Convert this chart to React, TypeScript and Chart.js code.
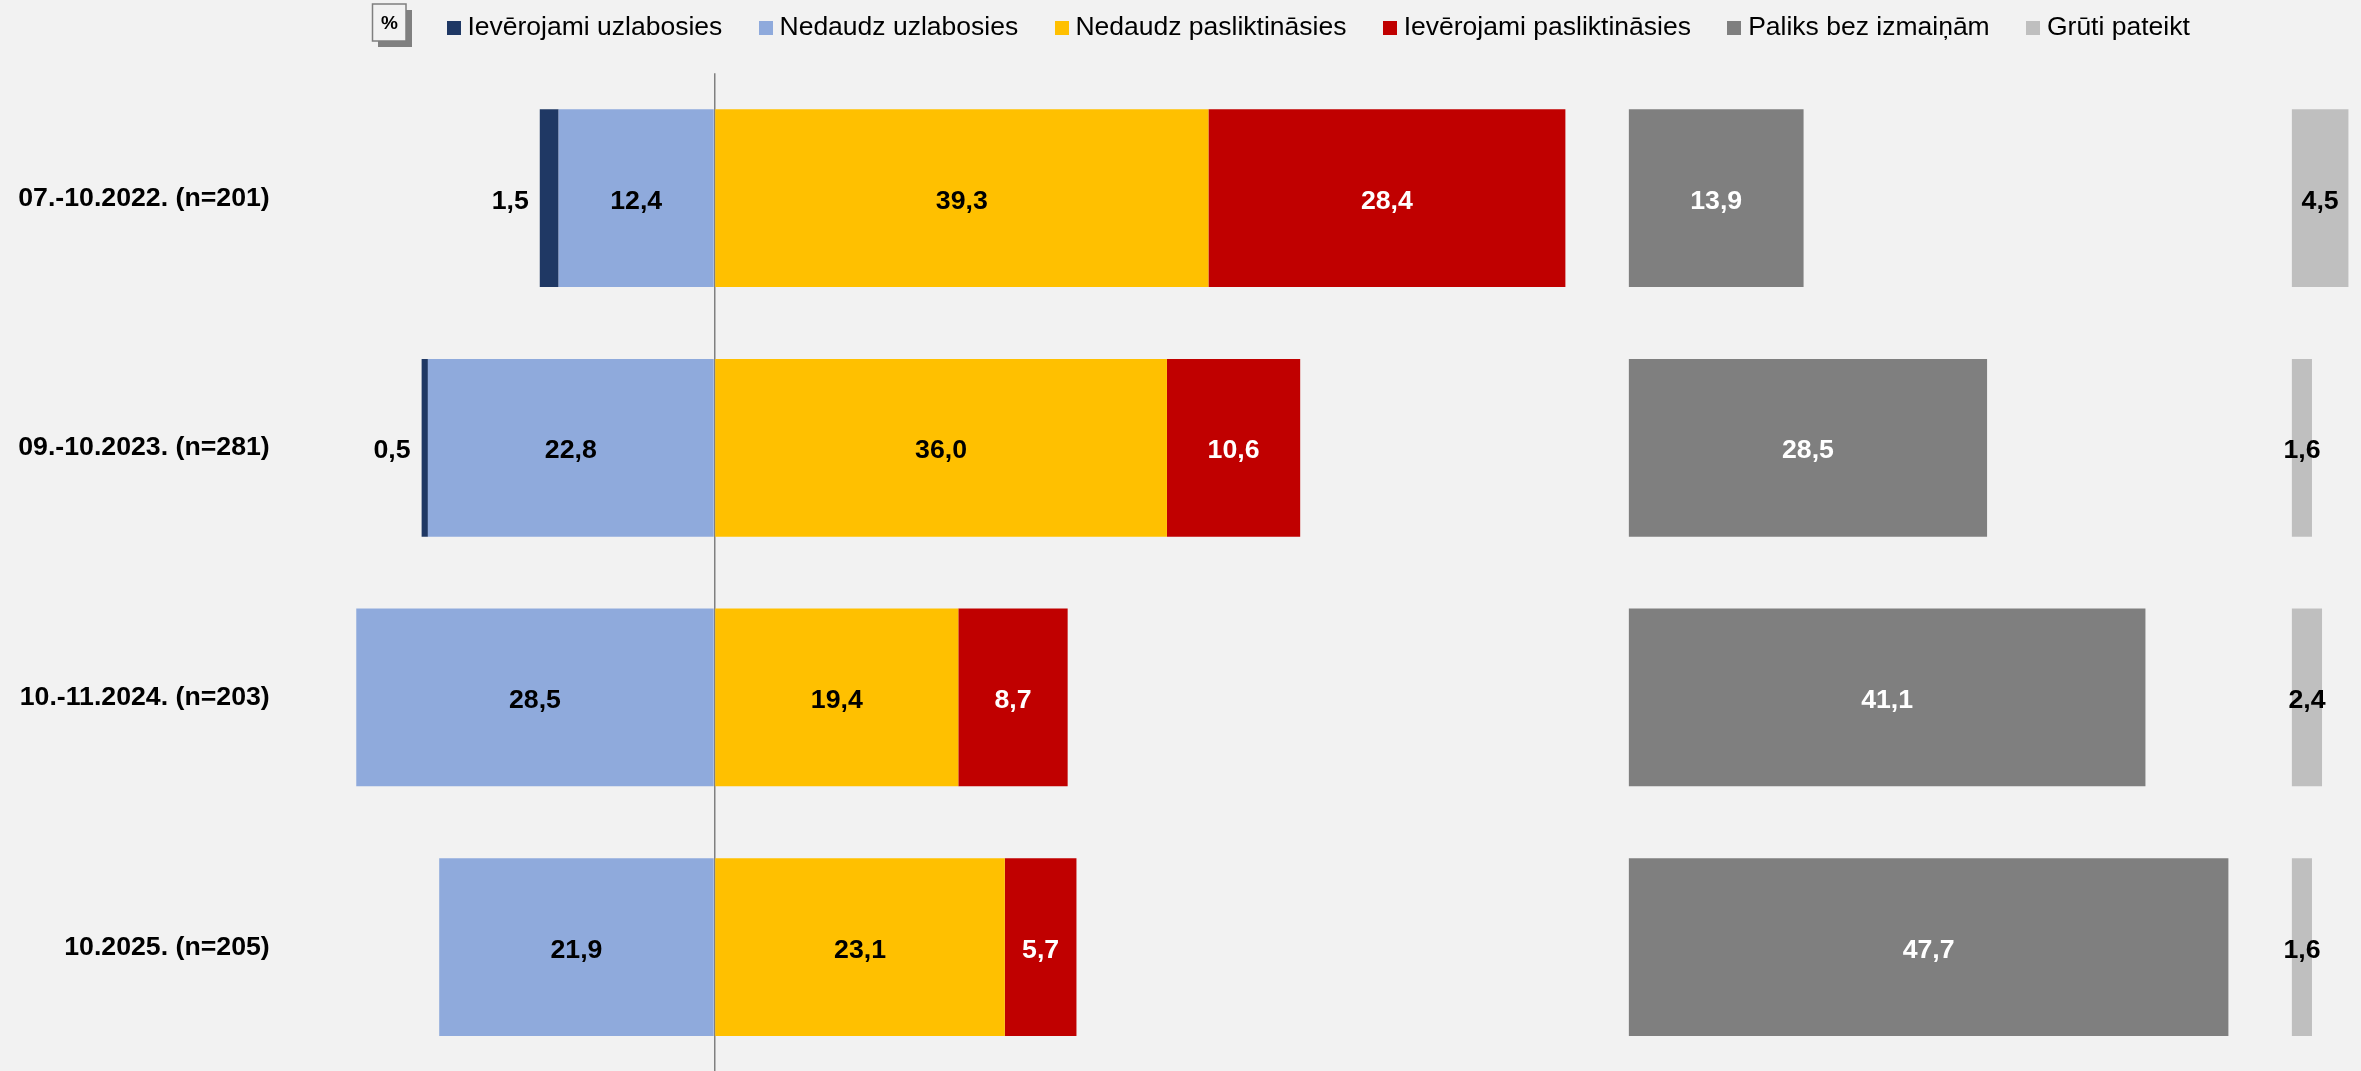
import React, { useEffect, useRef } from "react";
import { Chart, registerables } from "chart.js";

Chart.register(...registerables);

const categories = ["07.-10.2022. (n=201)", "09.-10.2023. (n=281)", "10.-11.2024. (n=203)", "10.2025. (n=205)"];
const muchBetter = [1.5, 0.5, null, null];
const slightlyBetter = [12.4, 22.8, 28.5, 21.9];
const slightlyWorse = [39.3, 36.0, 19.4, 23.1];
const muchWorse = [28.4, 10.6, 8.7, 5.7];
const noChange = [13.9, 28.5, 41.1, 47.7];
const hardToSay = [4.5, 1.6, 2.4, 1.6];

const secondPanelStart = 72.75;
const thirdPanelStart = 125.5;
const BG = "#F2F2F2";
const FONT = "'Liberation Sans', Arial, sans-serif";

const swatch = (color: string) => {
  const c = document.createElement("canvas");
  c.width = 14;
  c.height = 14;
  const g = c.getContext("2d")!;
  g.fillStyle = color;
  g.fillRect(0, 0, 14, 14);
  return c;
};

const fmt = (v: number) => v.toFixed(1).replace(".", ",");

const barLabels = {
  id: "barLabels",
  afterDatasetsDraw(chart: any) {
    const ctx = chart.ctx;
    ctx.save();
    ctx.font = `bold 26.7px ${FONT}`;
    ctx.textBaseline = "middle";
    chart.data.datasets.forEach((ds: any, i: number) => {
      if (ds.spacer) return;
      chart.getDatasetMeta(i).data.forEach((bar: any, j: number) => {
        const v = ds.data[j];
        if (v == null) return;
        const { x, y, base } = bar.getProps(["x", "y", "base"], true);
        ctx.fillStyle = ds.labelColor;
        if (ds.outside) {
          ctx.textAlign = "right";
          ctx.fillText(fmt(Math.abs(v)), Math.min(x, base) - 11, y + 3);
        } else {
          ctx.textAlign = "center";
          ctx.fillText(fmt(Math.abs(v)), (x + base) / 2, y + 3);
        }
      });
    });
    ctx.restore();
  },
};

const unitBadge = {
  id: "unitBadge",
  afterDraw(chart: any) {
    const ctx = chart.ctx;
    ctx.save();
    ctx.fillStyle = "#808080";
    ctx.fillRect(378, 10, 34, 37);
    ctx.fillStyle = BG;
    ctx.strokeStyle = "#7F7F7F";
    ctx.lineWidth = 1.5;
    ctx.fillRect(372.5, 4, 33.5, 37);
    ctx.strokeRect(372.5, 4, 33.5, 37);
    ctx.fillStyle = "#000";
    ctx.font = `bold 19px ${FONT}`;
    ctx.textAlign = "center";
    ctx.textBaseline = "middle";
    ctx.fillText("%", 389.5, 24);
    ctx.restore();
  },
};

const placeLegend = {
  id: "placeLegend",
  afterLayout(chart: any) {
    chart.legend.left = 282;
    chart.legend.top = -28.5;
  },
};

export default function App() {
  const ref = useRef<HTMLCanvasElement>(null);
  useEffect(() => {
    document.body.style.margin = "0";
    document.body.style.background = BG;
    const sum = (a: number[], b: number[]) => a.map((v, i) => v + b[i]);
    const base = (d: any) => ({ stack: "s", borderWidth: 0, ...d });
    const gapA = sum(slightlyWorse, muchWorse).map((v) => secondPanelStart - v);
    const gapB = noChange.map((v) => thirdPanelStart - secondPanelStart - v);
    const chart = new Chart(ref.current!, {
      type: "bar",
      data: {
        labels: categories,
        datasets: [
          base({ label: "Nedaudz uzlabosies", rank: 1, labelColor: "#000", data: slightlyBetter.map((v) => -v), backgroundColor: "#8FAADC" }),
          base({ label: "Ievērojami uzlabosies", rank: 0, labelColor: "#000", outside: true, data: muchBetter.map((v) => (v == null ? null : -v)), backgroundColor: "#1F3864" }),
          base({ label: "Nedaudz pasliktināsies", rank: 2, labelColor: "#000", data: slightlyWorse, backgroundColor: "#FFC000" }),
          base({ label: "Ievērojami pasliktināsies", rank: 3, labelColor: "#FFF", data: muchWorse, backgroundColor: "#C00000" }),
          base({ label: "spacerA", spacer: true, data: gapA, backgroundColor: "transparent" }),
          base({ label: "Paliks bez izmaiņām", rank: 4, labelColor: "#FFF", data: noChange, backgroundColor: "#7F7F7F" }),
          base({ label: "spacerB", spacer: true, data: gapB, backgroundColor: "transparent" }),
          base({ label: "Grūti pateikt", rank: 5, labelColor: "#000", data: hardToSay, backgroundColor: "#BFBFBF" }),
        ] as any,
      },
      options: {
        indexAxis: "y",
        responsive: false,
        animation: false,
        layout: { autoPadding: false, padding: { top: -6.2, bottom: 0, left: 0, right: 0 } },
        datasets: { bar: { barPercentage: 0.712, categoryPercentage: 1 } },
        scales: {
          x: {
            stacked: true,
            min: -33,
            max: 131,
            afterBuildTicks: (s: any) => { s.ticks = [{ value: 0 }]; },
            afterFit: (s: any) => { s.height = 0; },
            grid: { color: "#808080", lineWidth: 1.5, drawTicks: false },
            border: { display: false },
            ticks: { display: false },
          },
          y: {
            stacked: true,
            grid: { display: false },
            border: { display: false },
            afterFit: (s: any) => { s.width = 299.7; },
            ticks: { color: "#000", padding: 22, font: { family: FONT, size: 26.7, weight: "bold" } },
          },
        },
        plugins: {
          tooltip: { enabled: false },
          title: { display: false },
          legend: {
            position: "top",
            padding: 0,
            labels: {
              color: "#000",
              font: { family: FONT, size: 26.5 },
              padding: 43,
              boxHeight: 14,
              usePointStyle: true,
              pointStyleWidth: 1,
              sort: (a: any, b: any) => a.rank - b.rank,
              filter: (i: any) => !i.text.startsWith("spacer"),
              generateLabels: (c: any) =>
                c.data.datasets.map((d: any, i: number) => ({
                  text: d.label,
                  rank: d.rank,
                  datasetIndex: i,
                  fontColor: "#000",
                  pointStyle: swatch(d.backgroundColor === "transparent" ? BG : d.backgroundColor),
                  lineWidth: 0,
                  fillStyle: d.backgroundColor,
                })),
            },
          },
        },
      } as any,
      plugins: [placeLegend, barLabels, unitBadge],
    });
    return () => chart.destroy();
  }, []);
  return (
    <div style={{ position: "absolute", left: 0, top: 0, width: 2361, height: 1071, overflow: "hidden", background: BG }}>
      <canvas ref={ref} width={2361} height={1110} style={{ display: "block" }} />
    </div>
  );
}
